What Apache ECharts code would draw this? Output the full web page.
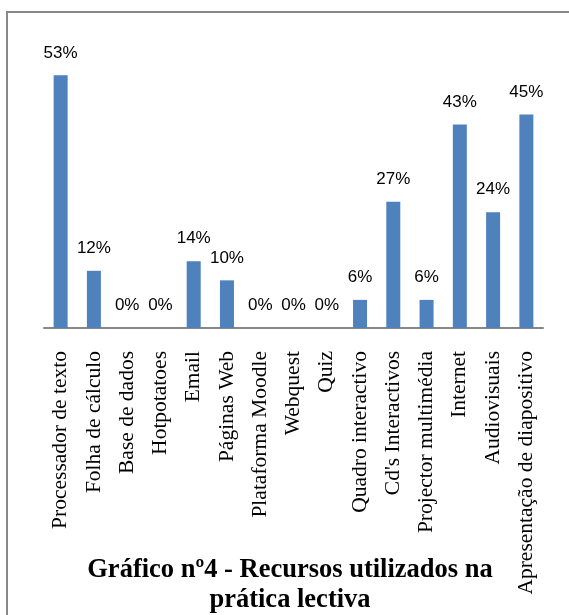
<!DOCTYPE html>
<html>
<head>
<meta charset="utf-8">
<script src="https://cdn.jsdelivr.net/npm/echarts@6/dist/echarts.min.js"></script>
<style>html,body{margin:0;padding:0;background:#fff}#c{width:569px;height:615px}</style>
</head>
<body>
<div id="c"></div>
<script>
const categories = ["Processador de texto","Folha de cálculo","Base de dados","Hotpotatoes","Email","Páginas Web","Plataforma Moodle","Webquest","Quiz","Quadro interactivo","Cd's Interactivos","Projector multimédia","Internet","Audiovisuais","Apresentação de diapositivo"];
const values = [53, 12, 0, 0, 14, 10, 0, 0, 0, 5.9, 26.5, 5.9, 42.7, 24.3, 44.8];
const titleText = "Gráfico nº4 - Recursos utilizados na\nprática lectiva";

const chart = echarts.init(document.getElementById('c'), null, {renderer:'canvas'});
chart.setOption({
  animation:false,
  backgroundColor:'#fff',
  title:{
    text:titleText, left:290, top:555, textAlign:'center', padding:0,
    textStyle:{fontFamily:'Liberation Serif', fontWeight:'bold', fontSize:26.5, lineHeight:30, color:'#000'}
  },
  graphic:[{type:'rect', shape:{x:7, y:12, width:700, height:700}, style:{fill:null, stroke:'#898989', lineWidth:2}, silent:true}],
  grid:{left:44, right:26, top:42, bottom:287, containLabel:false},
  xAxis:{
    type:'category', data:categories,
    axisLine:{lineStyle:{color:'#868686', width:2}},
    axisTick:{show:false},
    axisLabel:{rotate:90, interval:0, margin:23, color:'#000', fontFamily:'Liberation Serif', fontSize:21.5}
  },
  yAxis:{type:'value', min:0, max:60, show:false, splitLine:{show:false}},
  series:[{
    type:'bar', data:values, barWidth:14,
    itemStyle:{color:'#4F81BD'},
    label:{show:true, position:'top', distance:14, color:'#000', fontFamily:'Liberation Sans', fontSize:17,
      formatter:p=>Math.round(p.value)+'%'}
  }]
});
</script>
</body>
</html>
